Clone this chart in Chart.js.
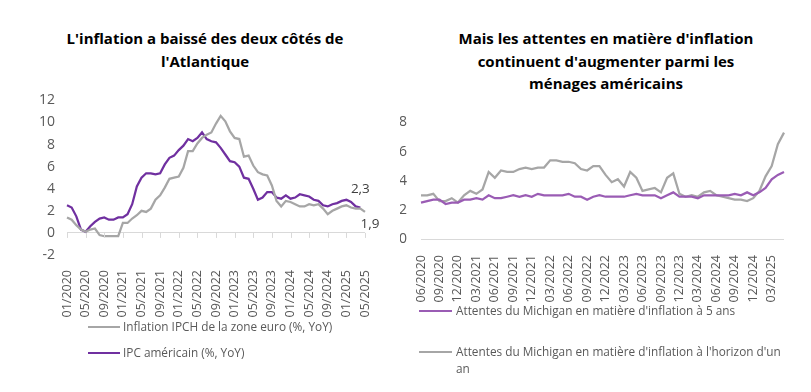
<!DOCTYPE html>
<html>
<head>
<meta charset="utf-8">
<script src="https://cdn.jsdelivr.net/npm/chart.js@4"></script>
<style>
  body { margin: 0; background: #fff; font-family: "Open Sans", sans-serif; }
  #page { position: relative; width: 811px; height: 392px; overflow: hidden; }
  .title { position: absolute; text-align: center; font-weight: bold; font-size: 15px; line-height: 22.5px; color: #000; }
  .legend { position: absolute; font-size: 11.8px; color: #595959; }
  .legend .item { position: absolute; white-space: nowrap; line-height: 17px; }
  .legend .swatch { position: absolute; height: 2px; }
  canvas { position: absolute; }
</style>
</head>
<body>
<div id="page">
  <div class="title" style="left:0; top:27px; width:410px;">L'inflation a baissé des deux côtés de<br>l'Atlantique</div>
  <div class="title" style="left:400px; top:27px; width:412px;">Mais les attentes en matière d'inflation<br>continuent d'augmenter parmi les<br>ménages américains</div>

  <canvas id="left" width="400" height="245" style="left:0; top:80px;"></canvas>
  <canvas id="right" width="411" height="210" style="left:400px; top:100px;"></canvas>

  <div class="legend">
    <div class="swatch" style="left:88px; top:326px; width:32px; background:#A6A6A6;"></div>
    <div class="item" style="left:123px; top:318px;">Inflation IPCH de la zone euro (%, YoY)</div>
    <div class="swatch" style="left:88px; top:352px; width:32px; background:#7030A0;"></div>
    <div class="item" style="left:123px; top:344px;">IPC américain (%, YoY)</div>

    <div class="swatch" style="left:419px; top:310px; width:33px; background:#9A5CB4;"></div>
    <div class="item" style="left:456px; top:302px;">Attentes du Michigan en matière d'inflation à 5 ans</div>
    <div class="swatch" style="left:419px; top:351px; width:33px; background:#A6A6A6;"></div>
    <div class="item" style="left:456px; top:343px;">Attentes du Michigan en matière d'inflation à l'horizon d'un<br>an</div>
  </div>
</div>
<script>
// left chart: monthly, 01/2020 -> 05/2025
const monthsLeft = [];
for (let y = 2020; y <= 2025; y++) {
  for (let m = 1; m <= 12; m++) {
    if (y === 2025 && m > 5) break;
    monthsLeft.push(String(m).padStart(2, "0") + "/" + y);
  }
}
const hicpEuro = [
  1.4, 1.2, 0.7, 0.3, 0.1, 0.3, 0.4, -0.2, -0.3, -0.3, -0.3, -0.3,
  0.9, 0.9, 1.3, 1.6, 2.0, 1.9, 2.2, 3.0, 3.4, 4.1, 4.9, 5.0,
  5.1, 5.9, 7.4, 7.4, 8.1, 8.6, 8.9, 9.1, 9.9, 10.6, 10.1, 9.2,
  8.6, 8.5, 6.9, 7.0, 6.1, 5.5, 5.3, 5.2, 4.3, 2.9, 2.4, 2.9,
  2.8, 2.6, 2.4, 2.4, 2.6, 2.5, 2.6, 2.2, 1.7, 2.0, 2.2, 2.4,
  2.5, 2.3, 2.2, 2.2, 1.9
];
const cpiUs = [
  2.5, 2.3, 1.5, 0.3, 0.1, 0.6, 1.0, 1.3, 1.4, 1.2, 1.2, 1.4,
  1.4, 1.7, 2.6, 4.2, 5.0, 5.4, 5.4, 5.3, 5.4, 6.2, 6.8, 7.0,
  7.5, 7.9, 8.5, 8.3, 8.6, 9.1, 8.5, 8.3, 8.2, 7.7, 7.1, 6.5,
  6.4, 6.0, 5.0, 4.9, 4.0, 3.0, 3.2, 3.7, 3.7, 3.2, 3.1, 3.4,
  3.1, 3.2, 3.5, 3.4, 3.3, 3.0, 2.9, 2.5, 2.4, 2.6, 2.7, 2.9,
  3.0, 2.8, 2.4, 2.3
];
const endLabels = ["1,9", "2,3"];

// right chart: monthly, 06/2020 -> 05/2025
const monthsRight = [];
for (let y = 2020; y <= 2025; y++) {
  for (let m = 1; m <= 12; m++) {
    if (y === 2020 && m < 6) continue;
    if (y === 2025 && m > 5) break;
    monthsRight.push(String(m).padStart(2, "0") + "/" + y);
  }
}
const michigan5y = [
  2.5, 2.6, 2.7, 2.7, 2.4, 2.5, 2.5,
  2.7, 2.7, 2.8, 2.7, 3.0, 2.8, 2.8, 2.9, 3.0, 2.9, 3.0, 2.9,
  3.1, 3.0, 3.0, 3.0, 3.0, 3.1, 2.9, 2.9, 2.7, 2.9, 3.0, 2.9,
  2.9, 2.9, 2.9, 3.0, 3.1, 3.0, 3.0, 3.0, 2.8, 3.0, 3.2, 2.9,
  2.9, 2.9, 2.8, 3.0, 3.0, 3.0, 3.0, 3.0, 3.1, 3.0, 3.2, 3.0,
  3.2, 3.5, 4.1, 4.4, 4.6
];
const michigan1y = [
  3.0, 3.0, 3.1, 2.6, 2.6, 2.8, 2.5,
  3.0, 3.3, 3.1, 3.4, 4.6, 4.2, 4.7, 4.6, 4.6, 4.8, 4.9, 4.8,
  4.9, 4.9, 5.4, 5.4, 5.3, 5.3, 5.2, 4.8, 4.7, 5.0, 5.0, 4.4,
  3.9, 4.1, 3.6, 4.6, 4.2, 3.3, 3.4, 3.5, 3.2, 4.2, 4.5, 3.1,
  2.9, 3.0, 2.9, 3.2, 3.3, 3.0, 2.9, 2.8, 2.7, 2.7, 2.6, 2.8,
  3.3, 4.3, 5.0, 6.5, 7.3
];

Chart.defaults.font.family = '"Open Sans", sans-serif';
Chart.defaults.color = "#595959";

const zeroGrid = (ctx) => (ctx.tick && ctx.tick.value === 0 ? "#D9D9D9" : "rgba(0,0,0,0)");

// small tick marks under the zero line + end labels
const leftExtras = {
  id: "leftExtras",
  afterDatasetsDraw(chart) {
    const { ctx, scales } = chart;
    const y0 = scales.y.getPixelForValue(0);
    ctx.save();
    ctx.strokeStyle = "#D9D9D9";
    ctx.lineWidth = 1;
    for (let i = 0; i < monthsLeft.length; i += 4) {
      const x = Math.round(scales.x.getPixelForValue(i)) + 0.5;
      ctx.beginPath();
      ctx.moveTo(x, y0);
      ctx.lineTo(x, y0 + 5);
      ctx.stroke();
    }
    ctx.fillStyle = "#404040";
    ctx.font = '13.5px "Open Sans", sans-serif';
    ctx.textAlign = "center";
    ctx.textBaseline = "middle";
    const eu = chart.getDatasetMeta(0).data;
    const us = chart.getDatasetMeta(1).data;
    const pe = eu[eu.length - 1], pu = us[us.length - 1];
    ctx.fillText(endLabels[1], pu.x, pu.y - 18);
    ctx.fillText(endLabels[0], pe.x + 5, pe.y + 12);
    ctx.restore();
  }
};

new Chart(document.getElementById("left"), {
  type: "line",
  data: {
    labels: monthsLeft,
    datasets: [
      { label: "Inflation IPCH de la zone euro (%, YoY)", data: hicpEuro, borderColor: "#A6A6A6", borderWidth: 2.25, pointRadius: 0, tension: 0 },
      { label: "IPC américain (%, YoY)", data: cpiUs, borderColor: "#7030A0", borderWidth: 2.25, pointRadius: 0, tension: 0 }
    ]
  },
  options: {
    responsive: false,
    animation: false,
    layout: { padding: { top: 10, right: 35, left: 0, bottom: 0 } },
    plugins: { legend: { display: false }, tooltip: { enabled: false } },
    scales: {
      x: {
        grid: { display: false },
        border: { display: false },
        ticks: {
          autoSkip: false, maxRotation: 90, minRotation: 90, padding: 7,
          font: { size: 12.5 },
          callback: (v, i) => (i % 4 === 0 ? monthsLeft[i] : null)
        },
        afterFit: (s) => { s.height = 70; }
      },
      y: {
        min: -2, max: 12,
        grid: { color: zeroGrid, drawTicks: false },
        border: { display: false },
        ticks: { stepSize: 2, padding: 12, font: { size: 14 } },
        afterFit: (s) => { s.width = 67; }
      }
    }
  },
  plugins: [leftExtras]
});

new Chart(document.getElementById("right"), {
  type: "line",
  data: {
    labels: monthsRight,
    datasets: [
      { label: "Attentes du Michigan en matière d'inflation à 5 ans", data: michigan5y, borderColor: "#9A5CB4", borderWidth: 2.25, pointRadius: 0, tension: 0 },
      { label: "Attentes du Michigan en matière d'inflation à l'horizon d'un an", data: michigan1y, borderColor: "#A6A6A6", borderWidth: 2.25, pointRadius: 0, tension: 0 }
    ]
  },
  options: {
    responsive: false,
    animation: false,
    layout: { padding: { top: 17, right: 27, left: 0, bottom: 0 } },
    plugins: { legend: { display: false }, tooltip: { enabled: false } },
    scales: {
      x: {
        grid: { display: false },
        border: { display: false },
        ticks: {
          autoSkip: false, maxRotation: 90, minRotation: 90, padding: 8,
          font: { size: 12.5 },
          callback: (v, i) => (i % 3 === 0 ? monthsRight[i] : null)
        },
        afterFit: (s) => { s.height = 71; }
      },
      y: {
        min: 0, max: 8,
        grid: { color: zeroGrid, drawTicks: false },
        border: { display: false },
        ticks: { stepSize: 2, padding: 14, font: { size: 14 } },
        afterFit: (s) => { s.width = 21; }
      }
    }
  }
});
</script>
</body>
</html>
